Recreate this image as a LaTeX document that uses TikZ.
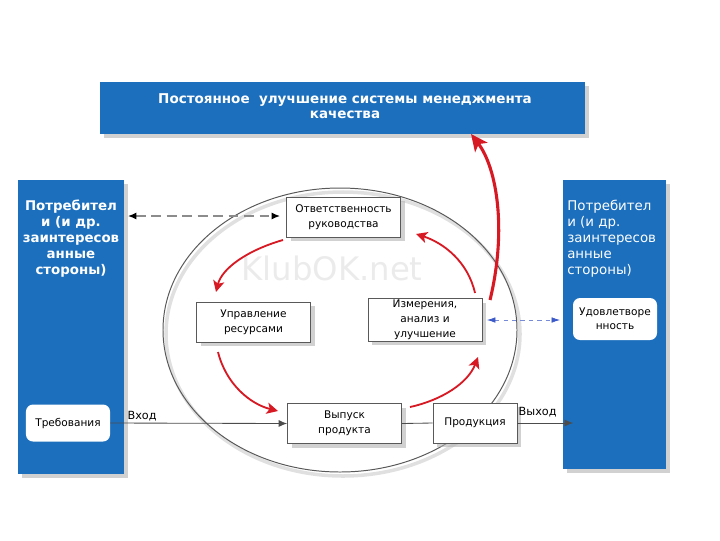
\documentclass[tikz,border=0pt]{standalone}
\usepackage{fontspec}
\setmainfont{DejaVu Sans}
\usetikzlibrary{arrows.meta,shadows}
\definecolor{colblue}{RGB}{28,111,189}
\definecolor{arrred}{RGB}{215,25,35}
\definecolor{dashblue}{RGB}{60,90,200}
\begin{document}
\begin{tikzpicture}[x=0.025cm,y=-0.025cm,
  shd/.style={drop shadow={shadow xshift=3pt,shadow yshift=-3pt,fill=black!30,opacity=0.6}},
  bluecol/.style={fill=colblue,draw=none,shd},
  procbox/.style={draw=black!65,fill=white,line width=0.6pt,minimum width=28.5mm,minimum height=10mm,
    align=center,font=\fontsize{7.5}{10.5}\selectfont,inner sep=1pt,shd},
  whitebox/.style={fill=white,draw=none,rounded corners=5pt,minimum width=21mm,align=center,
    font=\fontsize{7.5}{10}\selectfont,inner sep=1pt},
  redarr/.style={draw=arrred,line width=1.3pt,-{Stealth[length=8pt,width=8pt,inset=2pt]}},
  lbl/.style={font=\fontsize{8}{10}\selectfont,inner sep=1pt}
]
\useasboundingbox (0,0) rectangle (720,540);
% watermark
\node[text=black!8,font=\fontsize{23}{26}\selectfont] (wm) at (332,268) {KlubOK.net};
% banner
\node[bluecol,minimum width=121.25mm,minimum height=13mm] (banner) at (342.5,108) {};
\node[text=white,font=\bfseries\fontsize{9.6}{11}\selectfont,align=center] (bannertext) at (345,106)
  {Постоянное \ улучшение системы менеджмента\\качества};
% columns
\node[bluecol,minimum width=26.5mm,minimum height=73.5mm] (leftcol) at (71,327) {};
\node[text=white,font=\bfseries\fontsize{9.5}{11.4}\selectfont,align=center] (lefttext) at (71,239)
  {Потребител\\и (и др.\\заинтересов\\анные\\стороны)};
\node[bluecol,minimum width=25.75mm,minimum height=72.25mm] (rightcol) at (614.5,324.5) {};
\node[text=white,font=\fontsize{9.5}{11.4}\selectfont,align=left,anchor=west,inner sep=0pt] (righttext) at (567,239)
  {Потребител\\и (и др.\\заинтересов\\анные\\стороны)};
% white rounded boxes
\node[whitebox,minimum height=9.25mm] (req) at (68,423) {Требования};
\node[whitebox,minimum height=10.5mm] (sat) at (615,319) {Удовлетворе\\нность};
% ellipse with soft shadow
\draw[black!12,line width=2.5pt] (343,334) ellipse [x radius=177,y radius=142];
\draw[black!65,line width=0.7pt] (340,330) ellipse [x radius=177,y radius=142];
% process boxes
\node[procbox] (resp) at (343.5,217) {Ответственность\\руководства};
\node[procbox] (res) at (253.5,322) {Управление\\ресурсами};
\node[procbox] (meas) at (425,320) {Измерения,\\анализ и\\улучшение};
\node[procbox] (outp) at (344.5,423.5) {Выпуск\\продукта};
\node[procbox,minimum width=21mm] (prod) at (475,423) {Продукция};
% input / output
\coordinate (outtip) at (573,423);
\draw[black!70,line width=0.6pt,-{Latex[length=6pt,width=5pt]}] (req.east) -- (outp.west)
  node[pos=0.18,above,lbl,text=black] (inlbl) {Вход};
\draw[black!70,line width=0.6pt] (outp.east) -- (prod.west);
\draw[black!70,line width=0.6pt,-{Latex[length=6pt,width=5pt]}] (prod.east) -- (outtip);
\node[lbl,anchor=west] (outlbl) at (517,412) {Выход};
% dashed arrows
\coordinate (dl) at (128,216);
\coordinate (dr) at (280,216);
\draw[black!45,dash pattern=on 7pt off 4pt,line width=0.9pt,
  {Latex[length=6pt,width=5pt,black]}-{Latex[length=6pt,width=5pt,black]}] (dl) -- (dr);
\coordinate (bl) at (487,320);
\coordinate (br) at (560,320);
\draw[dashblue!70,dashed,line width=0.5pt,
  {Latex[length=6pt,width=4pt,dashblue]}-{Latex[length=6pt,width=4pt,dashblue]}] (bl) -- (br);
% red cycle arrows
\coordinate (r1a) at (283,240); \coordinate (r1b) at (216,292);
\coordinate (r2a) at (218,352); \coordinate (r2b) at (278,411);
\coordinate (r3a) at (410,407); \coordinate (r3b) at (478,357);
\coordinate (r4a) at (475,293); \coordinate (r4b) at (416,234);
\coordinate (r5a) at (490,300); \coordinate (r5b) at (471,134);
\draw[redarr] (r1a) .. controls (248,250) and (222,268) .. (r1b);
\draw[redarr] (r2a) .. controls (226,384) and (250,404) .. (r2b);
\draw[redarr] (r3a) .. controls (442,400) and (468,383) .. (r3b);
\draw[redarr] (r4a) .. controls (468,262) and (444,243) .. (r4b);
\draw[redarr,line width=2.2pt,-{Stealth[length=12pt,width=11pt,inset=3pt]}] (r5a) .. controls (507,230) and (497,168) .. (r5b);
\end{tikzpicture}
\end{document}
